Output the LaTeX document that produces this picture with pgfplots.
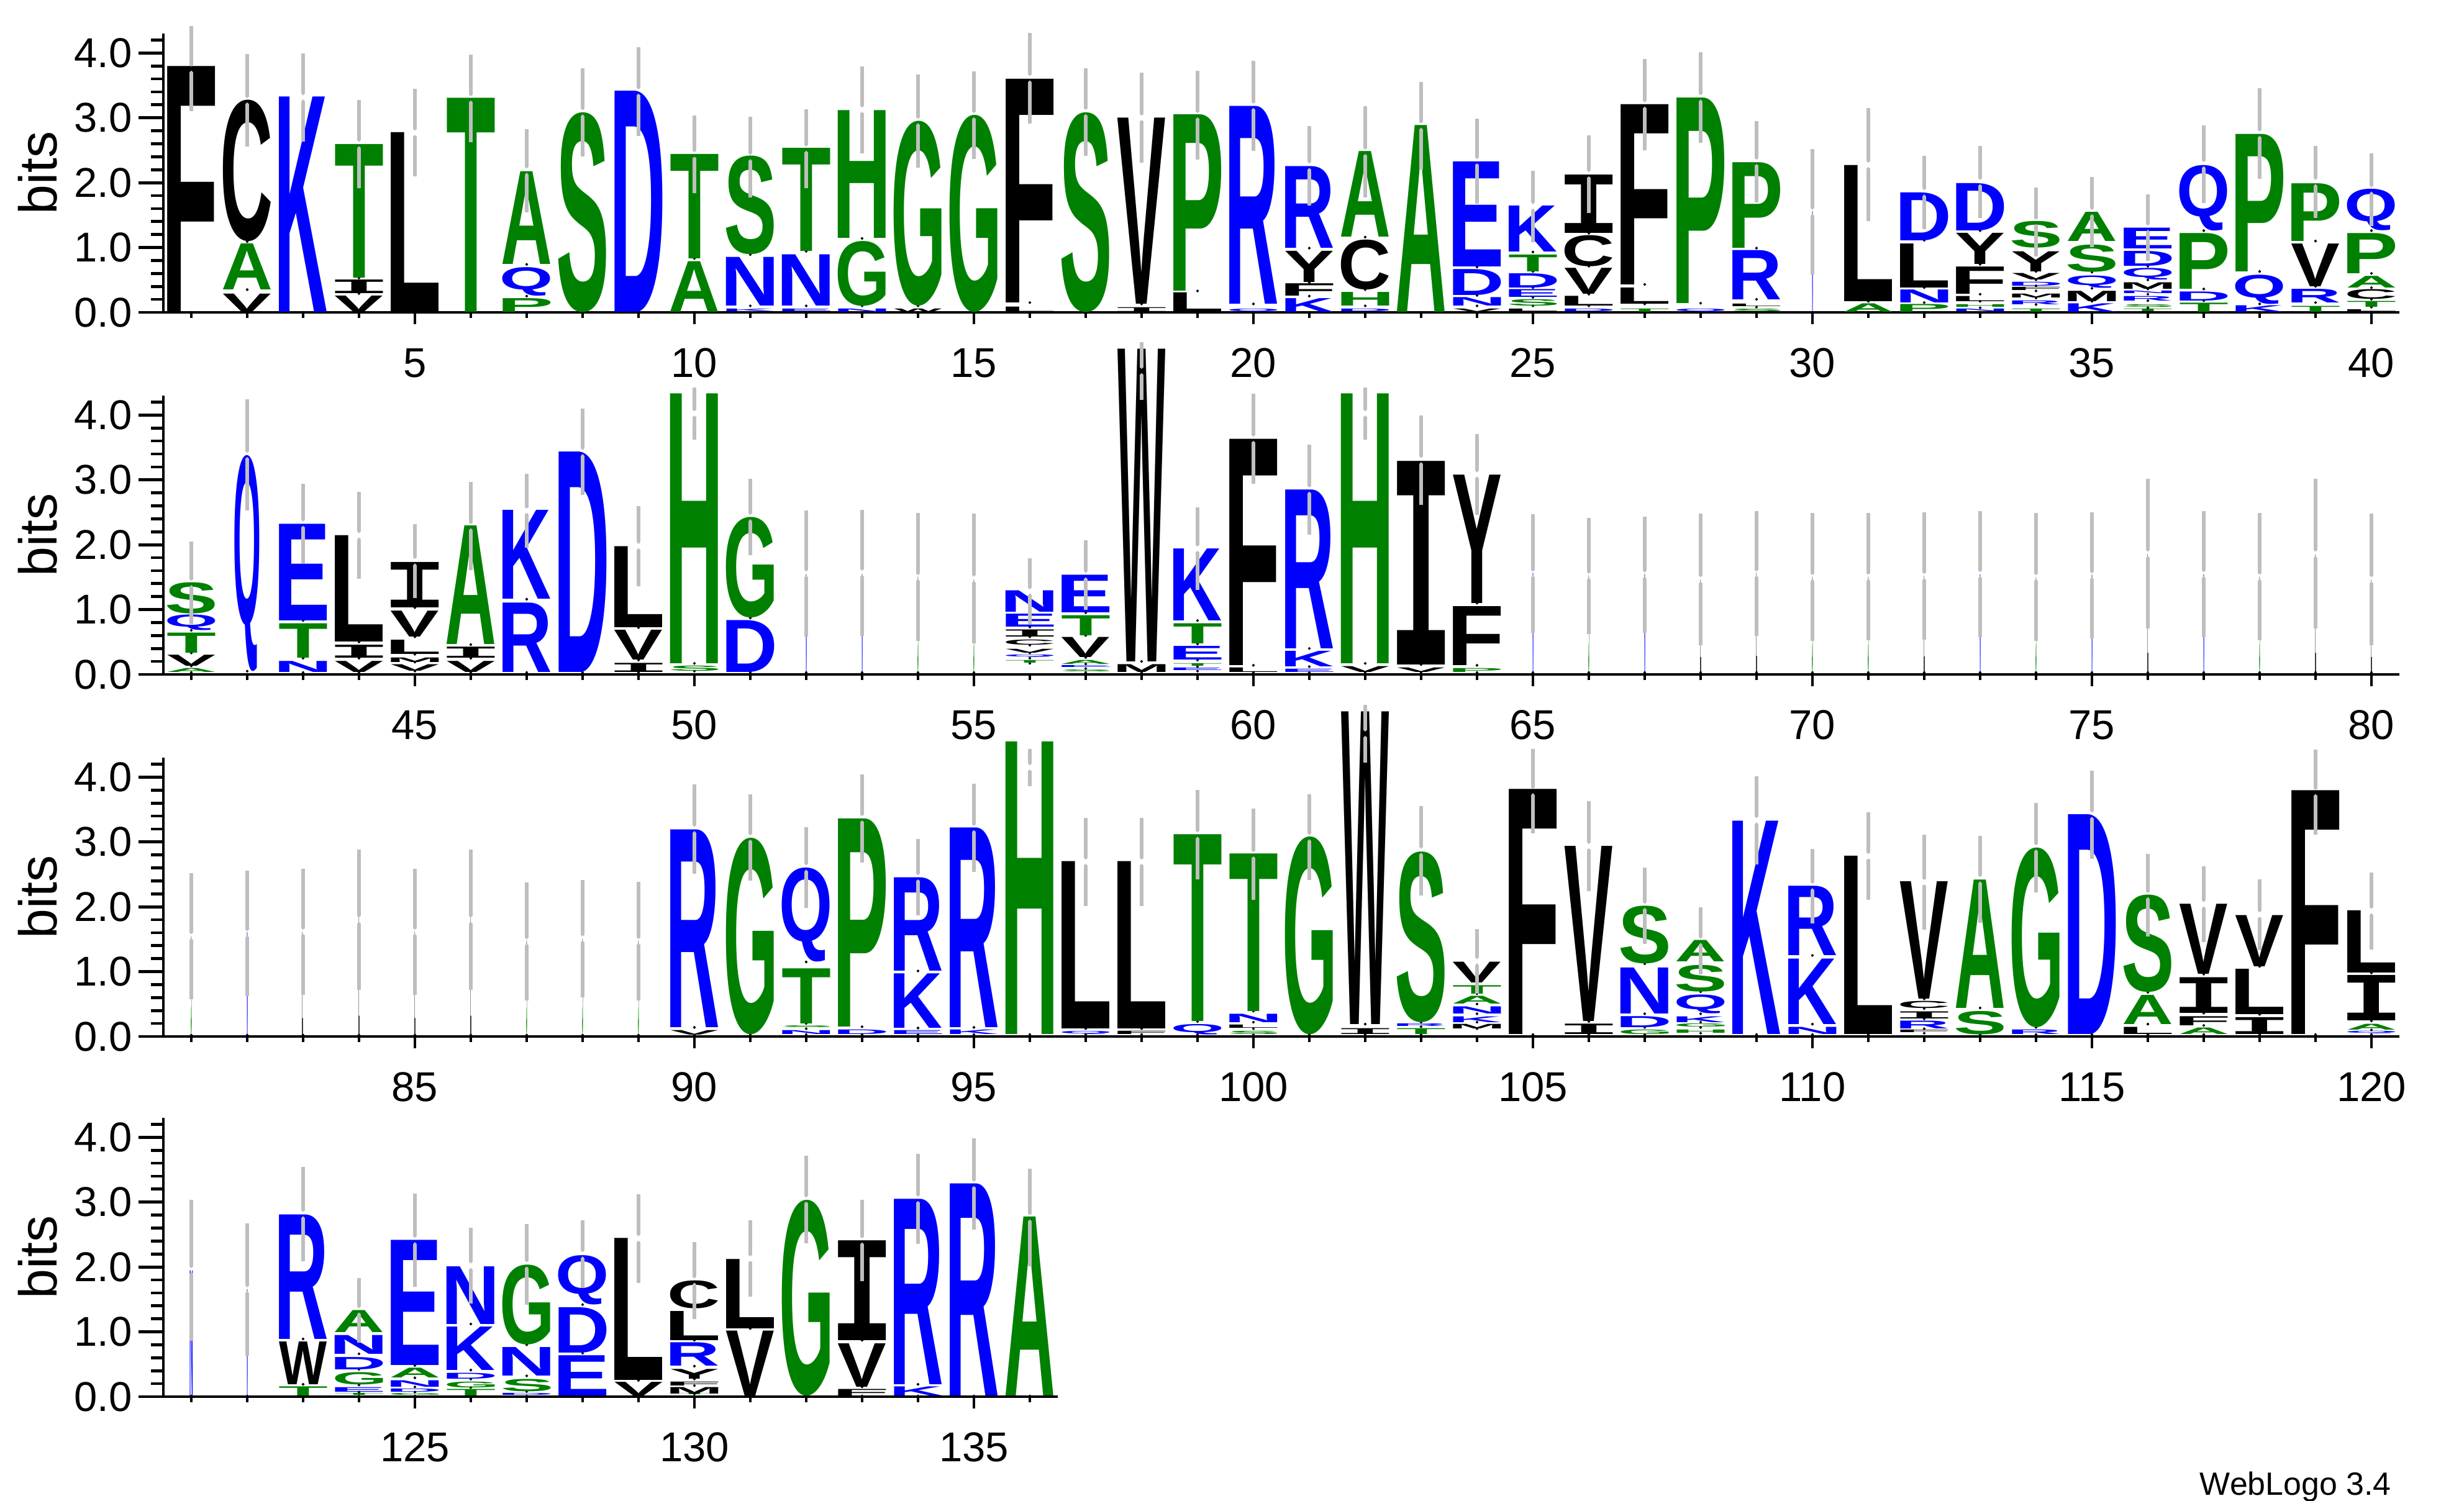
\documentclass[border=0pt]{standalone}
\usepackage{fontspec}
\setmainfont{Liberation Sans}
\newfontfamily\logofont{Liberation Sans}
\newfontfamily\logomono{Liberation Mono}
\usepackage{graphicx}
\usepackage{pgfplots}
\pgfplotsset{compat=1.18}
\usepackage{pgfplotstable}

\definecolor{wgreen}{RGB}{0,128,0}
\definecolor{wblue}{RGB}{0,0,255}
\definecolor{errgray}{RGB}{190,190,190}
\colorlet{lcR}{wblue}\colorlet{lcK}{wblue}\colorlet{lcD}{wblue}\colorlet{lcE}{wblue}\colorlet{lcN}{wblue}\colorlet{lcQ}{wblue}
\colorlet{lcS}{wgreen}\colorlet{lcG}{wgreen}\colorlet{lcH}{wgreen}\colorlet{lcT}{wgreen}\colorlet{lcA}{wgreen}\colorlet{lcP}{wgreen}
\colorlet{lcY}{black}\colorlet{lcV}{black}\colorlet{lcM}{black}\colorlet{lcC}{black}\colorlet{lcL}{black}\colorlet{lcF}{black}\colorlet{lcI}{black}\colorlet{lcW}{black}

\newdimen\logoXu \logoXu=0.5cm
\newdimen\logoYu \logoYu=0.58cm
\newdimen\logoWd
\newdimen\logoHt
\newdimen\lgLB
\newdimen\lgRB
\def\lgI{I}
% meta string is  letter/height/widthfraction
\def\lgparse#1/#2/#3\relax{\def\lgL{#1}\def\lgH{#2}\def\lgW{#3}}
% glyph box trimmed to its ink (side bearings removed)
\def\lginner#1{%
  \lgLB=\XeTeXglyphbounds1 \XeTeXcharglyph`#1\relax
  \lgRB=\XeTeXglyphbounds3 \XeTeXcharglyph`#1\relax
  \hbox{\kern-\lgLB #1\kern-\lgRB}}
\newcommand\logolet[1]{\edef\lgM{#1}%
  \expandafter\lgparse\lgM\relax
  \logoWd=\lgW\logoXu
  \logoWd=0.855\logoWd
  \logoHt=\lgH\logoYu
  \textcolor{lc\lgL}{\resizebox*{\logoWd}{\logoHt}{%
    \ifx\lgL\lgI\logomono\else\logofont\fi\bfseries
    \expandafter\lginner\expandafter{\lgL}}}}
\newcommand\addmeta[1]{%
  \pgfplotstablecreatecol[create col/assign/.code={%
    \edef\lgentry{\thisrow{L}/\thisrow{h}/\thisrow{w}}%
    \pgfkeyslet{/pgfplots/table/create col/next content}\lgentry}]{M}#1}

\pgfplotsset{
 logoaxis/.style={
  x=0.5cm, y=0.58cm, ymin=0, ymax=4.3, clip=false,
  axis x line*=bottom, axis y line*=left,
  axis line style={line width=0.75pt},
  tick align=outside,
  ytick={0,1,2,3,4}, yticklabels={0.0,1.0,2.0,3.0,4.0},
  minor ytick={0.2,0.4,0.6,0.8,1.2,1.4,1.6,1.8,2.2,2.4,2.6,2.8,3.2,3.4,3.6,3.8,4.2},
  major tick length=0.22cm, minor tick length=0.11cm,
  xtick style={/pgfplots/major tick length=0.105cm,/pgfplots/minor tick length=0.05cm},
  tick style={black, line width=0.75pt},
  tick label style={font=\fontsize{10.6}{12}\selectfont},
  xticklabel style={inner sep=2.7pt},
  yticklabel style={inner sep=1.5pt},
  ylabel={bits}, ylabel style={font=\fontsize{13.6}{15}\selectfont, inner sep=2.5pt},
 },
 hiddenaxis/.style={
  x=0.5cm, y=0.58cm, ymin=0, ymax=4.3, clip=false,
  hide axis,
 },
 letters/.style={only marks, mark=*, mark size=0.1pt, mark options={draw=none, fill=none},
   point meta=explicit symbolic,
   nodes near coords={\logolet{\pgfplotspointmeta}},
   every node near coord/.append style={anchor=south, inner sep=0pt, outer sep=0pt}},
 errup/.style={only marks, mark=*, mark size=0.1pt, mark options={draw=errgray, fill=errgray},
   error bars/y dir=plus, error bars/y explicit,
   error bars/error bar style={line width=0.85pt, errgray},
   error bars/error mark options={errgray, line width=0.85pt, mark size=1.75pt}},
 errdn/.style={only marks, mark=*, mark size=0.1pt, mark options={draw=errgray, fill=errgray},
   error bars/y dir=minus, error bars/y explicit,
   error bars/error bar style={line width=0.85pt, errgray},
   error bars/error mark options={errgray, line width=0.85pt, mark size=1.75pt}},
}

\pgfplotstableread{
x y h w L
1 0 3.79 1 F
2 0 0.28 1 V
2 0.35 0.71 1 A
2 1.09 2.18 1 C
3 0 3.32 1 K
4 0 0.25 1 V
4 0.29 0.21 1 I
4 0.53 2.06 1 T
5 0 2.77 1 L
6 0 3.30 1 T
7 0 0.21 1 P
7 0.25 0.44 1 Q
7 0.74 1.43 1 A
8 0 3.08 1 S
9 0 3.41 1 D
10 0 0.78 1 A
10 0.83 1.61 1 T
11 0 0.04 1 K
11 0.10 0.75 1 N
11 0.89 1.52 1 S
12 0 0.04 1 E
12 0.10 0.79 1 N
12 0.94 1.59 1 T
13 0 0.05 1 N
13 0.10 1.00 1 G
13 1.14 1.97 1 H
14 0 0.05 1 W
14 0.10 2.85 1 G
15 0 3.04 1 G
16 0 0.08 1 L
16 0.15 3.45 1 F
17 0 3.08 1 S
18 0 0.07 1 I
18 0.13 2.87 1 V
19 0 0.30 1 L
19 0.33 2.72 1 P
20 0 0.05 1 Q
20 0.13 3.05 1 R
21 0 0.21 1 K
21 0.25 0.19 1 F
21 0.46 0.48 1 Y
21 0.99 1.26 1 R
22 0 0.04 1 D
22 0.10 0.21 1 H
22 0.35 0.77 1 C
22 1.16 1.32 1 A
23 0 2.88 1 A
24 0 0.05 1 V
24 0.10 0.13 1 N
24 0.26 0.40 1 D
24 0.70 1.62 1 E
25 0 0.04 1 L
25 0.10 0.10 1 S
25 0.23 0.12 1 E
25 0.38 0.22 1 D
25 0.63 0.26 1 T
25 0.93 0.71 1 K
26 0 0.04 1 D
26 0.10 0.15 1 L
26 0.28 0.40 1 V
26 0.71 0.48 1 C
26 1.22 0.90 1 I
27 0 0.05 1 T
27 0.13 0.25 1 L
27 0.43 2.78 1 F
28 0 0.05 1 Q
28 0.14 3.17 1 P
29 0 0.04 1 S
29 0.08 0.04 1 L
29 0.20 0.76 1 R
29 0.99 1.32 1 P
30 0 1.55 0.02 N
31 0 0.13 1 A
31 0.17 2.10 1 L
32 0 0.12 1 P
32 0.15 0.20 1 N
32 0.38 0.68 1 L
32 1.11 0.74 1 D
33 0 0.04 1 N
33 0.07 0.04 1 H
33 0.17 0.08 1 L
33 0.28 0.42 1 F
33 0.74 0.48 1 Y
33 1.26 0.73 1 D
34 0 0.05 1 T
34 0.12 0.06 1 R
34 0.22 0.06 1 M
34 0.33 0.05 1 F
34 0.41 0.06 1 D
34 0.50 0.10 1 V
34 0.63 0.31 1 Y
34 0.99 0.41 1 S
35 0 0.13 1 K
35 0.17 0.16 1 M
35 0.37 0.19 1 Q
35 0.62 0.42 1 S
35 1.10 0.45 1 A
36 0 0.04 1 T
36 0.07 0.04 1 S
36 0.18 0.07 1 R
36 0.28 0.04 1 N
36 0.36 0.10 1 M
36 0.50 0.18 1 Q
36 0.71 0.23 1 D
36 0.98 0.32 1 E
37 0 0.14 1 T
37 0.18 0.14 1 D
37 0.36 0.86 1 P
37 1.26 1.01 1 Q
38 0 0.10 1 K
38 0.13 0.45 1 Q
38 0.63 2.12 1 P
39 0 0.09 1 T
39 0.15 0.21 1 R
39 0.40 0.66 1 V
39 1.10 0.89 1 P
40 0 0.03 1 L
40 0.08 0.09 1 T
40 0.20 0.15 1 C
40 0.38 0.18 1 A
40 0.60 0.62 1 P
40 1.26 0.64 1 Q
}\rowA

\pgfplotstableread{
x c e
1 3.76 0.55
2 3.27 0.61
3 3.315 0.575
4 2.595 0.575
5 2.77 0.57
6 3.30 0.57
7 2.185 0.535
8 3.085 0.575
9 3.405 0.575
10 2.435 0.495
11 2.395 0.515
12 2.525 0.505
13 3.125 0.565
14 2.95 0.61
15 3.04 0.57
16 3.61 0.59
17 3.09 0.57
18 3.00 0.59
19 3.04 0.58
20 3.185 0.585
21 2.26 0.51
22 2.475 0.595
23 2.88 0.57
24 2.33 0.55
25 1.635 0.445
26 2.13 0.49
27 3.205 0.595
28 3.315 0.595
29 2.32 0.52
30 1.55 0.86
31 2.275 0.765
32 1.85 0.46
33 2.01 0.45
34 1.395 0.425
35 1.545 0.435
36 1.305 0.405
37 2.285 0.495
38 2.755 0.595
39 2.01 0.45
40 1.895 0.455
}\errA

\pgfplotstableread{
x y h w L
41 0.03 0.06 1 A
41 0.13 0.17 1 V
41 0.33 0.31 1 T
41 0.68 0.24 1 Q
41 0.94 0.48 1 S
42 0.05 3.33 0.52 Q
43 0.03 0.17 1 N
43 0.25 0.53 1 T
43 0.83 1.49 1 E
44 0.03 0.17 1 V
44 0.25 0.20 1 I
44 0.50 1.64 1 L
45 0.05 0.10 1 V
45 0.19 0.07 1 M
45 0.31 0.22 1 L
45 0.58 0.40 1 V
45 1.03 0.70 1 I
46 0.03 0.17 1 V
46 0.25 0.17 1 I
46 0.46 1.83 1 A
47 0.03 1.07 1 R
47 1.16 1.37 1 K
48 0.03 3.40 1 D
49 0.03 0.14 1 I
49 0.22 0.46 1 V
49 0.72 1.25 1 L
50 0.05 0.08 1 S
50 0.17 4.16 1 H
51 0.03 0.80 1 D
51 0.87 1.55 1 G
52 0.03 1.51 0.02 N
53 0.03 1.51 0.02 N
54 0.03 1.48 0.02 S
55 0.03 1.44 0.02 S
56 0.17 0.04 1 T
56 0.25 0.04 1 Q
56 0.33 0.06 1 V
56 0.45 0.08 1 C
56 0.58 0.11 1 I
56 0.73 0.20 1 E
56 0.96 0.33 1 N
57 0.03 0.03 1 S
57 0.09 0.03 1 E
57 0.16 0.06 1 A
57 0.26 0.31 1 V
57 0.60 0.31 1 T
57 0.95 0.58 1 E
58 0.03 0.12 1 M
58 0.20 4.82 1 W
59 0.05 0.04 1 E
59 0.12 0.04 1 T
59 0.22 0.21 1 E
59 0.47 0.31 1 T
59 0.83 1.11 1 K
60 0.03 0.07 1 L
60 0.14 3.49 1 F
61 0.03 0.05 1 E
61 0.12 0.24 1 K
61 0.40 2.45 1 R
62 0.03 0.09 1 V
62 0.17 4.16 1 H
63 0.03 0.07 1 V
63 0.15 3.14 1 I
64 0.03 0.06 1 P
64 0.14 0.91 1 F
64 1.10 1.98 1 Y
65 0.03 1.53 0.02 N
66 0.03 1.50 0.02 S
67 0.03 1.51 0.02 N
68 0.03 1.43 0.02 L
69 0.03 1.53 0.02 L
70 0.03 1.48 0.02 S
71 0.03 1.48 0.02 S
72 0.03 1.48 0.02 L
73 0.03 1.51 0.02 N
74 0.03 1.47 0.02 S
75 0.03 1.50 0.02 N
76 0.03 1.82 0.02 L
77 0.03 1.51 0.02 N
78 0.03 1.48 0.02 S
79 0.03 1.82 0.02 L
80 0.03 1.43 0.02 L
}\rowB

\pgfplotstableread{
x c e
41 1.41 0.53
42 3.385 0.755
43 2.325 0.505
44 2.145 0.565
45 1.745 0.465
46 2.285 0.575
47 2.525 0.465
48 3.43 0.56
49 1.98 0.51
50 4.025 0.295
51 2.425 0.485
52 1.555 0.865
53 1.565 0.865
54 1.50 0.88
55 1.475 0.895
56 1.28 0.40
57 1.53 0.43
58 4.68 0.34
59 1.94 0.53
60 3.635 0.585
61 2.85 0.59
62 4.025 0.295
63 3.305 0.585
64 3.085 0.515
65 1.555 0.805
66 1.52 0.79
67 1.54 0.79
68 1.465 0.905
69 1.555 0.855
70 1.50 0.88
71 1.505 0.875
72 1.515 0.875
73 1.545 0.865
74 1.50 0.88
75 1.525 0.865
76 1.86 1.05
77 1.545 0.865
78 1.505 0.875
79 1.86 1.05
80 1.465 0.905
}\errB

\pgfplotstableread{
x y h w L
81 0.02 1.53 0.02 S
82 0.02 1.58 0.02 N
83 0.02 1.59 0.02 L
84 0.02 1.80 0.02 L
85 0.02 1.59 0.02 L
86 0.02 1.80 0.02 L
87 0.02 1.46 0.02 S
88 0.02 1.49 0.02 S
89 0.02 1.46 0.02 S
90 0.02 0.07 1 V
90 0.14 3.05 1 R
91 0.03 3.03 1 G
92 0.03 0.06 1 N
92 0.12 0.03 1 S
92 0.20 0.85 1 T
92 1.15 1.45 1 Q
93 0.03 0.07 1 D
93 0.15 3.21 1 P
94 0.03 0.06 1 E
94 0.13 0.84 1 K
94 1.01 1.44 1 R
95 0.03 0.07 1 K
95 0.14 3.08 1 R
96 0.03 4.51 1 H
97 0.03 0.05 1 Q
97 0.12 2.58 1 L
98 0.03 0.05 1 F
98 0.12 2.58 1 L
99 0.03 0.16 1 Q
99 0.23 2.88 1 T
100 0.03 0.05 1 S
100 0.12 0.05 1 L
100 0.22 0.13 1 N
100 0.39 2.43 1 T
101 0.03 3.05 1 G
102 0.03 0.09 1 I
102 0.19 4.82 1 W
103 0.03 0.09 1 T
103 0.15 0.04 1 R
103 0.22 2.63 1 S
104 0.12 0.07 1 M
104 0.22 0.09 1 K
104 0.35 0.11 1 N
104 0.50 0.12 1 A
104 0.66 0.13 1 T
104 0.83 0.32 1 V
105 0.03 3.78 1 F
106 0.03 0.16 1 I
106 0.23 2.70 1 V
107 0.03 0.07 1 G
107 0.14 0.17 1 D
107 0.35 0.71 1 N
107 1.12 0.89 1 S
108 0.05 0.05 1 H
108 0.14 0.05 1 G
108 0.22 0.09 1 K
108 0.35 0.29 1 Q
108 0.69 0.41 1 S
108 1.15 0.33 1 A
109 0.03 3.29 1 K
110 0.03 0.11 1 N
110 0.19 1.01 1 K
110 1.25 1.07 1 R
111 0.03 2.75 1 L
112 0.05 0.04 1 F
112 0.12 0.12 1 R
112 0.27 0.11 1 I
112 0.43 0.11 1 C
112 0.58 1.81 1 V
113 0.03 0.36 1 S
113 0.44 1.98 1 A
114 0.03 0.07 1 R
114 0.14 2.77 1 G
115 0.03 3.39 1 D
116 0.03 0.11 1 L
116 0.19 0.45 1 A
116 0.68 1.50 1 S
117 0.03 0.10 1 A
117 0.17 0.14 1 F
117 0.36 0.55 1 I
117 0.96 1.08 1 V
118 0.03 0.26 1 I
118 0.34 0.70 1 L
118 1.08 0.79 1 V
119 0.03 3.76 1 F
120 0.03 0.04 1 Q
120 0.10 0.09 1 A
120 0.24 0.70 1 I
120 0.98 0.96 1 L
}\rowC

\pgfplotstableread{
x c e
81 1.545 0.865
82 1.59 0.86
83 1.615 0.865
84 1.80 0.98
85 1.615 0.865
86 1.80 0.98
87 1.465 0.805
88 1.51 0.80
89 1.47 0.81
90 3.20 0.58
91 3.07 0.56
92 2.605 0.515
93 3.365 0.575
94 2.455 0.485
95 3.215 0.575
96 4.15 0.18
97 2.695 0.575
98 2.695 0.575
99 3.115 0.585
100 2.81 0.60
101 3.075 0.555
102 4.67 0.34
103 2.865 0.585
104 1.16 0.39
105 3.785 0.545
106 2.935 0.585
107 2.015 0.485
108 1.475 0.415
109 3.335 0.575
110 2.32 0.47
111 2.78 0.57
112 2.38 0.63
113 2.425 0.565
114 2.915 0.585
115 3.42 0.57
116 2.18 0.53
117 2.04 0.48
118 1.88 0.44
119 3.77 0.55
120 1.935 0.485
}\errC

\pgfplotstableread{
x y h w L
121 0.01 1.93 0.06 N
122 0.01 1.64 0.02 N
123 0.01 0.14 1 T
123 0.19 0.66 1 W
123 0.89 1.92 1 R
124 0.01 0.03 1 T
124 0.07 0.07 1 E
124 0.18 0.19 1 G
124 0.42 0.19 1 D
124 0.66 0.29 1 N
124 0.99 0.34 1 A
125 0.01 0.03 1 G
125 0.07 0.05 1 D
125 0.15 0.10 1 N
125 0.29 0.15 1 A
125 0.48 1.93 1 E
126 0.01 0.10 1 T
126 0.14 0.09 1 G
126 0.27 0.09 1 D
126 0.41 0.67 1 K
126 1.12 0.89 1 N
127 0.01 0.03 1 D
127 0.08 0.19 1 S
127 0.32 0.44 1 N
127 0.80 1.23 1 G
128 0.01 0.62 1 E
128 0.67 0.70 1 D
128 1.42 0.76 1 Q
129 0.01 0.21 1 V
129 0.25 2.19 1 L
130 0.01 0.02 1 T
130 0.04 0.10 1 M
130 0.17 0.06 1 F
130 0.27 0.15 1 Y
130 0.47 0.36 1 R
130 0.87 0.45 1 L
130 1.36 0.43 1 C
131 0.01 1.00 1 V
131 1.05 1.07 1 L
132 0.01 3.02 1 G
133 0.01 0.10 1 F
133 0.15 0.67 1 V
133 0.87 1.54 1 I
134 0.01 0.14 1 K
134 0.19 2.86 1 R
135 0.01 3.27 1 R
136 0.01 2.76 1 A
}\rowD

\pgfplotstableread{
x c e
121 1.95 0.98
122 1.655 0.915
123 2.815 0.625
124 1.33 0.39
125 2.415 0.615
126 2.02 0.48
127 2.04 0.52
128 2.195 0.415
129 2.44 0.58
130 1.79 0.49
131 2.13 0.48
132 3.04 0.57
133 2.41 0.52
134 3.05 0.59
135 3.28 0.60
136 2.765 0.645
}\errD

\addmeta\rowA
\addmeta\rowB
\addmeta\rowC
\addmeta\rowD

\begin{document}
\begin{tikzpicture}
\path[use as bounding box] (-1.461cm,2.794cm) rectangle (20.578cm,-10.633cm);
% row 1
\begin{axis}[logoaxis, at={(0,0)}, anchor=south west, xmin=0.5, xmax=40.5,
  xtick={5,10,15,20,25,30,35,40}, xticklabels={5,10,15,20,25,30,35,40}, minor xtick={1,...,40}]
\addplot[letters] table[x=x,y=y,meta=M] {\rowA};
\end{axis}
\begin{axis}[hiddenaxis, at={(0,0)}, anchor=south west, xmin=0.5, xmax=40.5]
\addplot[errup] table[x=x,y expr=\thisrow{c}+0.055,y error expr=\thisrow{e}-0.055] {\errA};
\addplot[errdn] table[x=x,y expr=\thisrow{c}-0.055,y error expr=\thisrow{e}-0.055] {\errA};
\end{axis}
% row 2
\begin{axis}[logoaxis, at={(0,-3.239cm)}, anchor=south west, xmin=40.5, xmax=80.5,
  xtick={45,50,55,60,65,70,75,80}, xticklabels={45,50,55,60,65,70,75,80}, minor xtick={41,...,80}]
\addplot[letters] table[x=x,y=y,meta=M] {\rowB};
\end{axis}
\begin{axis}[hiddenaxis, at={(0,-3.239cm)}, anchor=south west, xmin=40.5, xmax=80.5]
\addplot[errup] table[x=x,y expr=\thisrow{c}+0.055,y error expr=\thisrow{e}-0.055] {\errB};
\addplot[errdn] table[x=x,y expr=\thisrow{c}-0.055,y error expr=\thisrow{e}-0.055] {\errB};
\end{axis}
% row 3
\begin{axis}[logoaxis, at={(0,-6.478cm)}, anchor=south west, xmin=80.5, xmax=120.5,
  xtick={85,90,95,100,105,110,115,120}, xticklabels={85,90,95,100,105,110,115,120}, minor xtick={81,...,120}]
\addplot[letters] table[x=x,y=y,meta=M] {\rowC};
\end{axis}
\begin{axis}[hiddenaxis, at={(0,-6.478cm)}, anchor=south west, xmin=80.5, xmax=120.5]
\addplot[errup] table[x=x,y expr=\thisrow{c}+0.055,y error expr=\thisrow{e}-0.055] {\errC};
\addplot[errdn] table[x=x,y expr=\thisrow{c}-0.055,y error expr=\thisrow{e}-0.055] {\errC};
\end{axis}
% row 4
\begin{axis}[logoaxis, at={(0,-9.7cm)}, anchor=south west, xmin=120.5, xmax=136.5,
  xtick={125,130,135}, xticklabels={125,130,135}, minor xtick={121,...,136}]
\addplot[letters] table[x=x,y=y,meta=M] {\rowD};
\end{axis}
\begin{axis}[hiddenaxis, at={(0,-9.7cm)}, anchor=south west, xmin=120.5, xmax=136.5]
\addplot[errup] table[x=x,y expr=\thisrow{c}+0.055,y error expr=\thisrow{e}-0.055] {\errD};
\addplot[errdn] table[x=x,y expr=\thisrow{c}-0.055,y error expr=\thisrow{e}-0.055] {\errD};
\end{axis}
\node[anchor=base east, font=\fontsize{8.2}{10}\selectfont] at (20.05cm,-10.583cm) {WebLogo 3.4};
\end{tikzpicture}
\end{document}
